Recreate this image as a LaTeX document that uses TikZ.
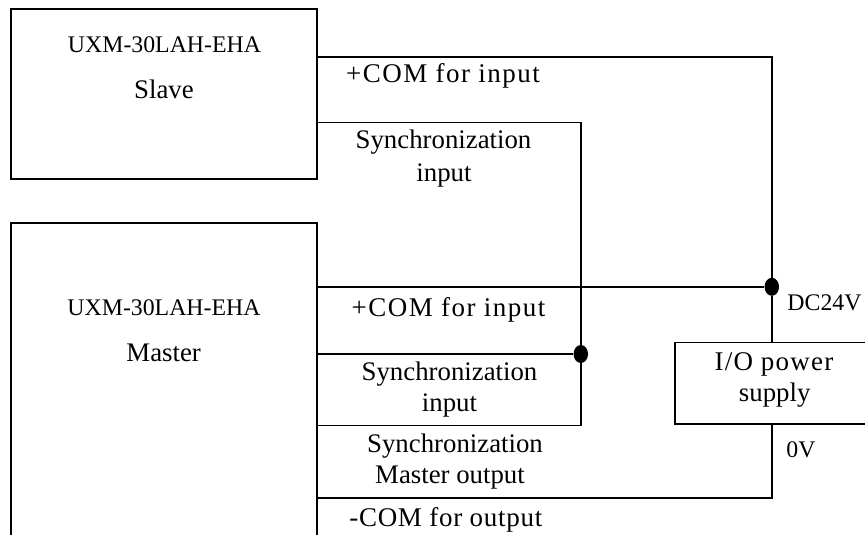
\documentclass[tikz,border=0pt]{standalone}
\usepackage{fontspec}
\setmainfont{Liberation Serif}
\usetikzlibrary{calc,shapes.geometric}
\tikzset{
  boxnode/.style={draw=black,line width=1.7pt,rectangle,inner sep=0pt,outer sep=0pt,anchor=north west},
  wire/.style={draw=black,line width=1.7pt},
  dotnode/.style={ellipse,fill=black,draw=none,inner sep=0pt,minimum width=14.5pt,minimum height=18pt},
  lab/.style={inner sep=0pt,anchor=base,font=\fontsize{26.8}{30}\selectfont},
  labp/.style={inner sep=0pt,anchor=base,font=\fontsize{27}{30}\selectfont\addfontfeature{LetterSpace=5.6}},
  labm/.style={inner sep=0pt,anchor=base,font=\fontsize{27}{30}\selectfont\addfontfeature{LetterSpace=2.6}},
  labi/.style={inner sep=0pt,anchor=base,font=\fontsize{27}{30}\selectfont\addfontfeature{LetterSpace=4.6}},
  small/.style={inner sep=0pt,anchor=base,font=\fontsize{23.8}{28}\selectfont}
}
\begin{document}
\begin{tikzpicture}[x=1pt,y=-1pt]
\useasboundingbox (0,0) rectangle (865,535);
\clip (0,0) rectangle (865,535);
\node[boxnode,minimum width=306.5pt,minimum height=170pt] (slave) at (10.8,8.7) {};
\node[boxnode,minimum width=306.5pt,minimum height=350pt] (master) at (10.8,223.3) {};
\node[boxnode,minimum width=198pt,minimum height=81.7pt,line width=1.4pt] (io) at (675,342.3) {};
\coordinate (tr1) at (771.8,56.7);
\coordinate (tr2) at (580.8,122.5);
\coordinate (br2) at (580.8,425.5);
\coordinate (br1) at (771.8,497.7);
\node[dotnode] (d1) at (771.8,286.8) {};
\node[dotnode] (d2) at (580.8,354) {};
\draw[wire] (slave.east |- tr1) -- (tr1) -- (d1);
\draw[wire] (d1) -- (d1 |- io.north);
\draw[wire] (master.east |- d1) -- (d1);
\draw[wire] (slave.east |- tr2) -- (tr2) -- (br2) -- (master.east |- br2);
\draw[wire] (master.east |- d2) -- (d2);
\draw[wire] (master.east |- br1) -- (br1) -- (br1 |- io.south);
\node[small] (t1) at (164.5,52.3) {UXM-30LAH-EHA};
\node[lab] (t2) at (164,98.3) {Slave};
\node[labp] (t3) at (443,82.3) {+COM for input};
\node[lab] (t4) at (443.5,148.5) {Synchronization};
\node[lab] (t5) at (444,181) {input};
\node[small] (t6) at (164,315.7) {UXM-30LAH-EHA};
\node[lab] (t7) at (163.7,361) {Master};
\node[labp] (t8) at (448.5,316) {+COM for input};
\node[lab] (t9) at (449.5,380) {Synchronization};
\node[lab] (t10) at (449.5,411.7) {input};
\node[lab] (t11) at (455,452.3) {Synchronization};
\node[lab] (t12) at (450,483.3) {Master output};
\node[labm] (t13) at (445.8,526.7) {-COM for output};
\node[small] (t14) at (824.5,310) {DC24V};
\node[small] (t15) at (801,457.7) {0V};
\node[labi] (t16) at (774,370) {I/O power};
\node[lab] (t17) at (774.7,401.7) {supply};
\end{tikzpicture}
\end{document}
